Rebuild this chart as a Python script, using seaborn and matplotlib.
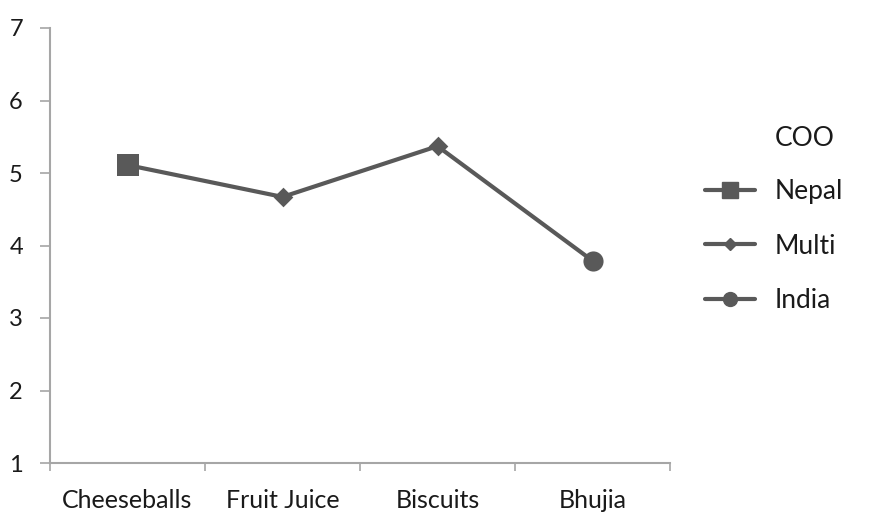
import matplotlib
matplotlib.use("Agg")
import matplotlib.pyplot as plt
from matplotlib.lines import Line2D
import seaborn as sns
import pandas as pd

# Mean rating by product, marker shows country of origin (COO)
products = ["Cheeseballs", "Fruit Juice", "Biscuits", "Bhujia"]
ratings = [5.11, 4.67, 5.37, 3.79]
coo = ["Nepal", "Multi", "Multi", "India"]
coo_order = ["Nepal", "Multi", "India"]
y_ticks = [1, 2, 3, 4, 5, 6, 7]

df = pd.DataFrame({"product": products, "rating": ratings, "COO": coo})
df["pos"] = range(len(products))

sns.set_theme(style="white")
plt.rcParams["font.family"] = ["Lato", "DejaVu Sans"]

line_col = "#595959"
axis_col = "#a6a6a6"
text_col = "#1a1a1a"

fig = plt.figure(figsize=(8.91, 5.14), dpi=100)
ax = fig.add_axes([50 / 891, 1 - 463 / 514, 620 / 891, 435 / 514])

sns.lineplot(data=df, x="pos", y="rating", color=line_col, linewidth=3.0,
             ax=ax, legend=False)
marker_map = {"Nepal": "s", "Multi": "D", "India": "o"}
size_map = {"Nepal": 16, "Multi": 10, "India": 14.5}
for name in coo_order:
    sub = df[df["COO"] == name]
    sns.scatterplot(data=sub, x="pos", y="rating", marker=marker_map[name],
                    s=size_map[name] ** 2, color=line_col, edgecolor=line_col,
                    linewidth=0, ax=ax, legend=False, zorder=3)

ax.set_xlim(-0.5, len(products) - 0.5)
ax.set_ylim(1, 7)
ax.set_yticks(y_ticks)
ax.set_yticklabels([str(v) for v in y_ticks], fontsize=17, color=text_col)
ax.set_xticks([i - 0.5 for i in range(len(products) + 1)])
ax.set_xticklabels([])
ax.set_xticks(range(len(products)), minor=True)
ax.set_xticklabels(products, minor=True, fontsize=18, color=text_col)
ax.tick_params(axis="x", which="major", length=6, width=1.2, color=axis_col,
               direction="out", bottom=True)
ax.tick_params(axis="x", which="minor", length=0, pad=19, bottom=True)
ax.tick_params(axis="y", length=7, width=1.2, color=axis_col,
               direction="out", left=True, pad=12.5)
ax.set_xlabel("")
ax.set_ylabel("")

for side in ["top", "right"]:
    ax.spines[side].set_visible(False)
for side in ["left", "bottom"]:
    ax.spines[side].set_color(axis_col)
    ax.spines[side].set_linewidth(1.5)

handles = [
    Line2D([], [], color=line_col, linewidth=3, marker="s", markersize=11),
    Line2D([], [], color=line_col, linewidth=3, marker="D", markersize=6.5),
    Line2D([], [], color=line_col, linewidth=3, marker="o", markersize=10),
]
leg = fig.legend(handles, coo_order, loc="upper left",
                 bbox_to_anchor=(705 / 891, 1 - 179 / 514), frameon=False,
                 fontsize=19, handlelength=1.9, labelspacing=1.12,
                 handletextpad=0.75, borderpad=0, borderaxespad=0)
for t in leg.get_texts():
    t.set_color(text_col)
fig.text(775 / 891, 1 - 139 / 514, "COO", fontsize=19, color=text_col,
         ha="left", va="center")

fig.savefig("out.png", dpi=100)
